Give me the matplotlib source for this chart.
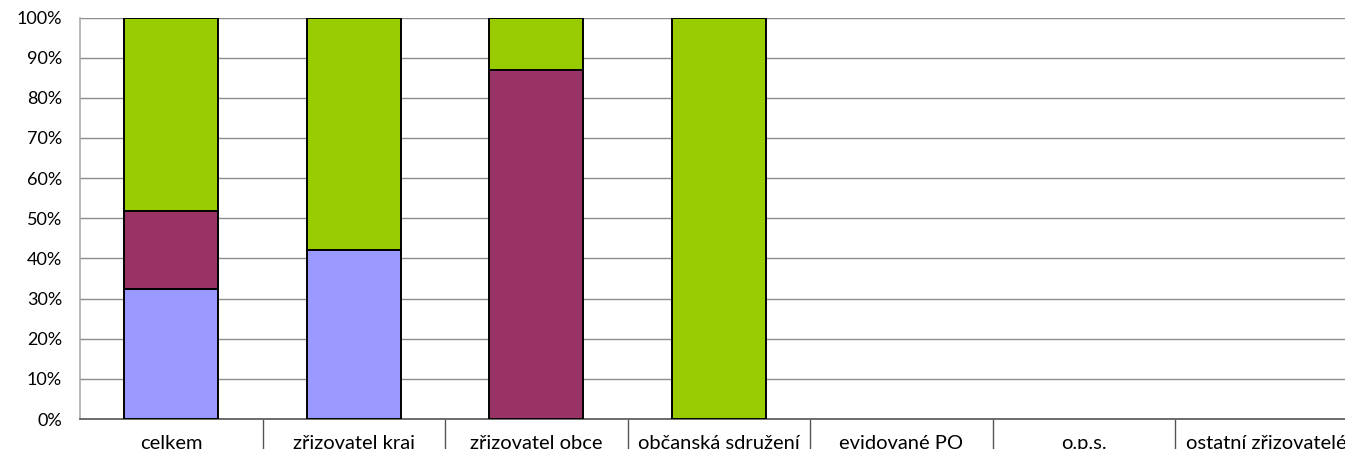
import numpy as np
import matplotlib.pyplot as plt
from matplotlib.ticker import FixedLocator, PercentFormatter

# kategorie a podíly (v %)
categories = ['celkem', 'zřizovatel kraj', 'zřizovatel obce', 'občanská sdružení',
              'evidované PO', 'o.p.s.', 'ostatní zřizovatelé']
blue_vals = [32.4, 42.0, 0, 0, 0, 0, 0]
purple_vals = [19.3, 0, 86.8, 0, 0, 0, 0]
green_vals = [48.3, 58.0, 13.2, 100, 0, 0, 0]

plt.rcParams['font.family'] = ['Lato', 'DejaVu Sans']

fig = plt.figure(figsize=(13.45, 4.49), dpi=100)
ax = fig.add_axes([80 / 1345, 30 / 449, 1277.5 / 1345, 401.5 / 449])

x = np.arange(len(categories))
w = 0.513
kw = dict(width=w, edgecolor='black', linewidth=1.4, zorder=3)

blue = np.array(blue_vals)
purple = np.array(purple_vals)
green = np.array(green_vals)

mask = blue > 0
ax.bar(x[mask], blue[mask], color='#9999FF', **kw)
mask = purple > 0
ax.bar(x[mask], purple[mask], bottom=blue[mask], color='#993366', **kw)
mask = green > 0
ax.bar(x[mask], green[mask], bottom=(blue + purple)[mask], color='#99CC00', **kw)

ax.set_xlim(-0.5, len(categories) - 0.5)
ax.set_ylim(0, 100)
ax.set_yticks(np.arange(0, 101, 10))
ax.yaxis.set_major_formatter(PercentFormatter(decimals=0))
ax.grid(axis='y', color='#8c8c8c', linewidth=1, zorder=0)

ax.set_xticks(x)
ax.set_xticklabels(categories)
ax.xaxis.set_minor_locator(FixedLocator(np.arange(0.5, len(categories), 1)))
ax.tick_params(axis='x', which='major', length=0, pad=11.5, labelsize=14.5)
ax.tick_params(axis='x', which='minor', length=24, width=1, color='#555555')
ax.tick_params(axis='y', length=0, pad=13, labelsize=13)

for s in ['top', 'right']:
    ax.spines[s].set_visible(False)
ax.spines['left'].set_color('#aaaaaa')
ax.spines['left'].set_linewidth(1.2)
ax.spines['bottom'].set_color('#555555')
ax.spines['bottom'].set_linewidth(1.2)

fig.savefig('out.png', dpi=100)
